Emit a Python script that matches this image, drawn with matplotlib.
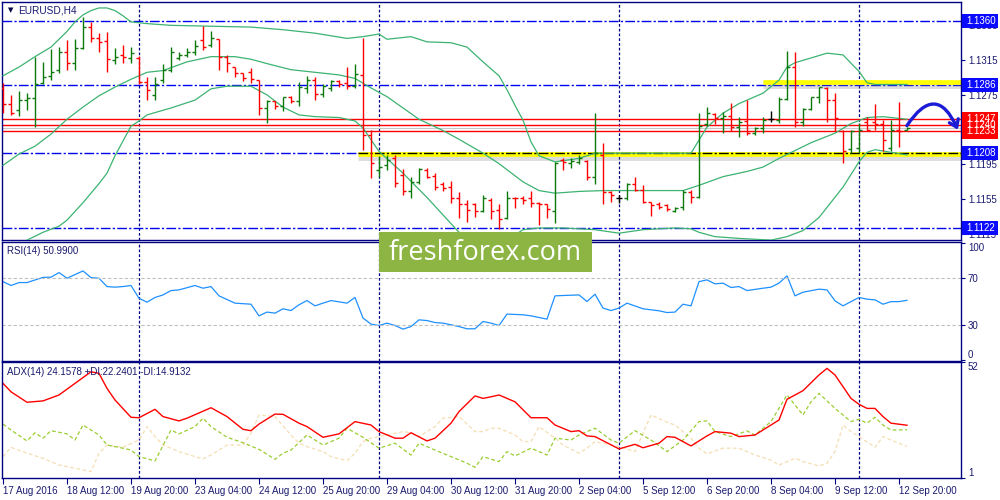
import numpy as np
import matplotlib.pyplot as plt
from matplotlib.patches import Rectangle, FancyArrowPatch
from matplotlib.transforms import blended_transform_factory

plt.rcParams['font.family'] = ['Liberation Sans', 'DejaVu Sans']

# EURUSD H4 bars, 17 Aug 2016 04:00 .. 13 Sep 2016 00:00
opens = [1.1283, 1.1265, 1.1258, 1.1269, 1.1272, 1.1289, 1.1297, 1.1304, 1.1324, 1.1312,
         1.1329, 1.1353, 1.1340, 1.1337, 1.1315, 1.1321, 1.1318, 1.1318, 1.1290, 1.1275,
         1.1292, 1.1304, 1.1318, 1.1321, 1.1324, 1.1338, 1.1332, 1.1339, 1.1319, 1.1307,
         1.1300, 1.1301, 1.1292, 1.1260, 1.1268, 1.1262, 1.1273, 1.1268, 1.1283, 1.1292,
         1.1276, 1.1283, 1.1291, 1.1289, 1.1285, 1.1298, 1.1229, 1.1189, 1.1194, 1.1203,
         1.1183, 1.1164, 1.1175, 1.1189, 1.1182, 1.1172, 1.1169, 1.1157, 1.1149, 1.1149,
         1.1141, 1.1154, 1.1143, 1.1133, 1.1157, 1.1157, 1.1156, 1.1151, 1.1149, 1.1141,
         1.1200, 1.1197, 1.1198, 1.1199, 1.1181, 1.1206, 1.1163, 1.1156, 1.1156, 1.1173,
         1.1166, 1.1152, 1.1149, 1.1148, 1.1142, 1.1146, 1.1163, 1.1158, 1.1242, 1.1253,
         1.1249, 1.1251, 1.1238, 1.1245, 1.1231, 1.1237, 1.1247, 1.1246, 1.1270, 1.1307,
         1.1244, 1.1259, 1.1273, 1.1283, 1.1269, 1.1233, 1.1213, 1.1214, 1.1244, 1.1244,
         1.1241, 1.1214, 1.1235, 1.1235]
highs = [1.1289, 1.1275, 1.1279, 1.1277, 1.1319, 1.1313, 1.1328, 1.1330, 1.1338, 1.1339,
         1.1365, 1.1359, 1.1346, 1.1347, 1.1329, 1.1332, 1.1330, 1.1320, 1.1296, 1.1296,
         1.1310, 1.1330, 1.1324, 1.1329, 1.1338, 1.1354, 1.1348, 1.1339, 1.1321, 1.1307,
         1.1300, 1.1306, 1.1292, 1.1269, 1.1268, 1.1273, 1.1274, 1.1290, 1.1297, 1.1296,
         1.1287, 1.1292, 1.1292, 1.1307, 1.1310, 1.1340, 1.1235, 1.1205, 1.1206, 1.1206,
         1.1190, 1.1181, 1.1191, 1.1191, 1.1185, 1.1175, 1.1176, 1.1163, 1.1154, 1.1151,
         1.1160, 1.1157, 1.1149, 1.1165, 1.1158, 1.1159, 1.1164, 1.1152, 1.1149, 1.1198,
         1.1202, 1.1202, 1.1206, 1.1200, 1.1254, 1.1220, 1.1165, 1.1160, 1.1174, 1.1181,
         1.1171, 1.1152, 1.1152, 1.1150, 1.1146, 1.1166, 1.1166, 1.1254, 1.1261, 1.1254,
         1.1255, 1.1266, 1.1250, 1.1269, 1.1238, 1.1250, 1.1257, 1.1273, 1.1326, 1.1324,
         1.1260, 1.1273, 1.1284, 1.1284, 1.1277, 1.1235, 1.1235, 1.1243, 1.1250, 1.1264,
         1.1246, 1.1246, 1.1267, 1.1238]
lows = [1.1254, 1.1252, 1.1251, 1.1258, 1.1238, 1.1287, 1.1292, 1.1300, 1.1304, 1.1304,
        1.1328, 1.1336, 1.1324, 1.1301, 1.1310, 1.1312, 1.1312, 1.1287, 1.1269, 1.1269,
        1.1289, 1.1301, 1.1315, 1.1319, 1.1321, 1.1327, 1.1330, 1.1304, 1.1301, 1.1296,
        1.1291, 1.1289, 1.1252, 1.1243, 1.1259, 1.1257, 1.1266, 1.1262, 1.1277, 1.1269,
        1.1273, 1.1279, 1.1284, 1.1282, 1.1283, 1.1212, 1.1180, 1.1181, 1.1189, 1.1169,
        1.1160, 1.1157, 1.1172, 1.1180, 1.1166, 1.1164, 1.1151, 1.1134, 1.1129, 1.1135,
        1.1140, 1.1132, 1.1121, 1.1132, 1.1145, 1.1149, 1.1146, 1.1125, 1.1134, 1.1128,
        1.1189, 1.1191, 1.1195, 1.1177, 1.1172, 1.1149, 1.1152, 1.1151, 1.1154, 1.1164,
        1.1151, 1.1136, 1.1144, 1.1142, 1.1140, 1.1143, 1.1151, 1.1157, 1.1239, 1.1242,
        1.1231, 1.1233, 1.1227, 1.1229, 1.1229, 1.1231, 1.1244, 1.1243, 1.1269, 1.1238,
        1.1239, 1.1258, 1.1266, 1.1244, 1.1233, 1.1197, 1.1208, 1.1208, 1.1233, 1.1235,
        1.1210, 1.1211, 1.1215, 1.1235]
closes = [1.1265, 1.1254, 1.1269, 1.1272, 1.1287, 1.1296, 1.1301, 1.1324, 1.1312, 1.1329,
          1.1353, 1.1340, 1.1336, 1.1316, 1.1319, 1.1319, 1.1323, 1.1290, 1.1281, 1.1288,
          1.1304, 1.1324, 1.1321, 1.1324, 1.1331, 1.1330, 1.1340, 1.1319, 1.1312, 1.1300,
          1.1295, 1.1293, 1.1260, 1.1268, 1.1262, 1.1273, 1.1268, 1.1284, 1.1292, 1.1276,
          1.1285, 1.1291, 1.1287, 1.1285, 1.1299, 1.1229, 1.1197, 1.1192, 1.1200, 1.1174,
          1.1164, 1.1175, 1.1190, 1.1181, 1.1169, 1.1168, 1.1157, 1.1149, 1.1143, 1.1141,
          1.1156, 1.1141, 1.1132, 1.1157, 1.1156, 1.1154, 1.1151, 1.1149, 1.1144, 1.1197,
          1.1198, 1.1199, 1.1203, 1.1181, 1.1208, 1.1163, 1.1160, 1.1156, 1.1173, 1.1166,
          1.1152, 1.1148, 1.1146, 1.1144, 1.1145, 1.1163, 1.1158, 1.1239, 1.1254, 1.1249,
          1.1251, 1.1238, 1.1244, 1.1231, 1.1237, 1.1246, 1.1247, 1.1270, 1.1307, 1.1244,
          1.1259, 1.1273, 1.1284, 1.1269, 1.1249, 1.1211, 1.1234, 1.1235, 1.1235, 1.1241,
          1.1223, 1.1235, 1.1234, 1.1237]

# Bollinger bands, read at bar positions
bb_up_x = [0, 2, 4, 6, 8, 9, 10, 11, 12, 13, 14, 15, 16, 18, 21, 26, 31, 35, 39, 43, 45, 47, 48, 51, 53,
           56, 58, 60, 62, 63, 64, 65, 66, 67, 69, 72, 74, 86, 87, 88, 90, 92, 95, 97, 98, 99, 103, 105,
           107, 108, 109, 113]
bb_up = [1.1297, 1.1307, 1.1319, 1.1330, 1.1348, 1.1359, 1.1367, 1.1372, 1.1375, 1.1375, 1.1372, 1.1366,
         1.1359, 1.1357, 1.1355, 1.1354, 1.1353, 1.1350, 1.1346, 1.1340, 1.1342, 1.1345, 1.1339, 1.1342,
         1.1336, 1.1335, 1.1330, 1.1313, 1.1297, 1.1281, 1.1263, 1.1246, 1.1221, 1.1205, 1.1198, 1.1202,
         1.1208, 1.1208, 1.1223, 1.1238, 1.1254, 1.1265, 1.1277, 1.1292, 1.1307, 1.1312, 1.1323, 1.1321,
         1.1302, 1.1289, 1.1287, 1.1287]
bb_mid_x = [0, 2, 4, 6, 8, 10, 12, 14, 16, 18, 20, 23, 26, 29, 31, 33, 36, 39, 42, 44, 46, 48, 50, 52, 55,
            57, 60, 62, 65, 67, 69, 72, 75, 85, 87, 90, 93, 95, 97, 99, 101, 104, 106, 108, 110, 113]
bb_mid = [1.1194, 1.1207, 1.1216, 1.1230, 1.1247, 1.1261, 1.1274, 1.1284, 1.1293, 1.1301, 1.1303, 1.1313,
          1.1319, 1.1319, 1.1316, 1.1311, 1.1304, 1.1301, 1.1298, 1.1294, 1.1283, 1.1273, 1.1260, 1.1247,
          1.1234, 1.1224, 1.1208, 1.1196, 1.1175, 1.1165, 1.1162, 1.1164, 1.1165, 1.1165, 1.1171, 1.1181,
          1.1187, 1.1192, 1.1202, 1.1211, 1.1220, 1.1231, 1.1242, 1.1249, 1.1250, 1.1247]
bb_low_x = [0, 3, 5, 7, 8, 10, 12, 13, 14, 16, 17, 18, 21, 24, 26, 28, 31, 33, 35, 37, 39, 42, 44, 45, 47,
            50, 53, 57, 59, 61, 63, 65, 67, 70, 74, 77, 80, 84, 86, 87, 89, 92, 96, 98, 100, 102, 105,
            107, 108, 109, 111, 113]
bb_low = [1.1092, 1.1108, 1.1117, 1.1124, 1.1131, 1.1151, 1.1173, 1.1185, 1.1205, 1.1239, 1.1245, 1.1252,
          1.1260, 1.1269, 1.1282, 1.1285, 1.1285, 1.1275, 1.1261, 1.1252, 1.1250, 1.1249, 1.1245, 1.1237,
          1.1210, 1.1185, 1.1157, 1.1117, 1.1102, 1.1099, 1.1108, 1.1120, 1.1122, 1.1122, 1.1120, 1.1116,
          1.1120, 1.1122, 1.1121, 1.1117, 1.1112, 1.1110, 1.1108, 1.1112, 1.1119, 1.1134, 1.1169, 1.1198,
          1.1209, 1.1212, 1.1209, 1.1206]

rsi_x = [0, 1, 2, 3, 5, 6, 7, 8, 10, 11, 12, 13, 14, 15, 16, 17, 18, 19, 20, 21, 22, 24, 25, 26, 27, 29,
         31, 32, 33, 34, 35, 36, 37, 38, 39, 40, 41, 43, 44, 45, 46, 47, 48, 49, 50, 51, 52, 53, 54, 55,
         56, 57, 58, 59, 60, 61, 62, 63, 65, 66, 68, 69, 70, 72, 73, 74, 75, 76, 77, 78, 80, 82, 83, 84,
         85, 86, 87, 88, 89, 90, 91, 92, 93, 95, 96, 97, 98, 99, 100, 102, 103, 104, 105, 106, 107, 108,
         109, 110, 111, 112, 113]
rsi = [66.9, 63.6, 66.1, 66.1, 70.5, 70.7, 74.6, 69.8, 76.0, 70.3, 69.8, 62.7, 62.2, 62.7, 63.6, 52.8,
       49.4, 53.4, 55.6, 59.3, 59.9, 63.6, 61.3, 62.7, 54.8, 48.6, 47.7, 37.8, 41.0, 40.1, 43.8, 42.3,
       47.2, 50.8, 46.3, 48.6, 50.8, 48.6, 53.4, 35.9, 30.8, 29.6, 31.6, 29.6, 26.5, 28.7, 34.4, 33.8,
       32.1, 31.6, 30.2, 28.7, 26.8, 26.8, 33.0, 31.6, 29.6, 39.3, 38.7, 37.8, 35.0, 54.8, 55.1, 55.6,
       50.0, 56.2, 44.4, 42.3, 44.4, 48.6, 43.8, 42.1, 40.6, 41.0, 47.7, 46.3, 66.9, 68.4, 65.0, 65.6,
       61.9, 62.7, 59.3, 61.3, 62.2, 65.6, 71.8, 54.8, 57.9, 60.5, 59.9, 50.6, 46.3, 49.9, 53.4, 52.0,
       51.4, 47.7, 49.9, 49.9, 51.0]

adx_x = [0, 1, 3, 5, 7, 9, 11, 12, 13, 14, 16, 17, 19, 20, 22, 23, 26, 28, 30, 31, 32, 34, 35, 37, 38,
         40, 42, 44, 46, 47, 49, 50, 51, 53, 54, 56, 57, 59, 60, 61, 62, 64, 66, 68, 69, 71, 72, 73, 74,
         77, 79, 80, 82, 83, 84, 86, 88, 89, 91, 92, 94, 95, 97, 98, 100, 102, 103, 104, 106, 107, 108,
         109, 110, 111, 113]
adx = [42.6, 38.9, 34.3, 34.9, 37.5, 42.6, 47.7, 47.0, 40.4, 35.3, 27.7, 27.5, 31.2, 28.0, 26.1, 27.3,
       31.9, 28.0, 22.4, 21.8, 24.7, 29.1, 29.0, 25.1, 23.6, 18.9, 20.4, 25.8, 24.3, 21.4, 18.5, 18.5,
       20.9, 17.3, 18.5, 25.1, 30.2, 37.1, 36.0, 36.7, 37.5, 34.5, 27.5, 27.5, 24.3, 21.4, 21.8, 19.5,
       19.2, 13.8, 15.8, 14.3, 16.3, 19.2, 18.9, 15.1, 19.5, 21.4, 20.7, 19.2, 19.9, 22.1, 26.5, 35.6,
       39.4, 46.3, 49.2, 46.3, 36.0, 33.4, 31.6, 31.6, 28.0, 25.1, 24.2]
pdi_x = [0, 1, 3, 4, 5, 6, 8, 9, 10, 12, 13, 15, 16, 17, 19, 21, 22, 24, 25, 26, 28, 30, 32, 34, 35,
         36, 38, 39, 40, 42, 43, 45, 47, 49, 51, 52, 54, 56, 58, 59, 60, 62, 63, 64, 66, 68, 69, 71, 72,
         74, 76, 77, 79, 81, 83, 85, 87, 88, 89, 91, 93, 94, 96, 98, 100, 101, 102, 104, 106, 107, 108,
         109, 110, 111, 113]
pdi = [24.7, 22.1, 17.3, 20.9, 18.5, 21.8, 20.4, 17.7, 24.3, 19.9, 15.5, 14.1, 13.3, 10.4, 8.5, 22.1,
       20.4, 23.6, 27.3, 23.6, 18.9, 16.5, 13.6, 9.2, 11.9, 13.3, 19.9, 17.7, 15.5, 18.5, 22.9, 18.9,
       14.1, 16.3, 11.1, 16.3, 13.3, 10.4, 7.5, 5.7, 10.4, 8.2, 12.6, 10.7, 14.1, 11.1, 18.5, 17.7,
       19.9, 22.9, 17.7, 16.3, 21.8, 17.7, 12.6, 17.7, 25.8, 26.1, 21.4, 19.2, 21.7, 19.9, 25.8, 37.5,
       28.7, 34.5, 38.2, 31.6, 25.8, 26.8, 25.1, 27.7, 24.3, 22.1, 22.2]
mdi_x = [0, 1, 3, 5, 7, 9, 11, 12, 13, 15, 17, 18, 19, 20, 22, 24, 25, 26, 28, 30, 31, 32, 34, 36, 37,
         38, 40, 41, 43, 44, 45, 46, 48, 50, 51, 52, 54, 55, 57, 59, 60, 61, 62, 64, 65, 66, 67, 69, 70,
         72, 73, 74, 76, 77, 79, 81, 83, 84, 86, 87, 88, 90, 92, 94, 96, 97, 99, 100, 102, 103, 104, 105,
         106, 107, 109, 110, 111, 113]
mdi = [10.4, 14.5, 11.9, 9.7, 6.7, 5.3, 3.8, 11.9, 15.5, 14.5, 17.7, 23.6, 19.2, 15.5, 12.6, 10.4, 9.4,
       11.1, 15.5, 15.5, 20.7, 28.7, 28.0, 19.9, 16.3, 14.8, 12.6, 10.4, 8.6, 11.9, 17.0, 18.5, 19.9,
       21.4, 20.9, 19.2, 23.6, 27.3, 28.0, 21.4, 21.4, 22.9, 22.9, 19.9, 17.0, 17.0, 23.6, 18.5, 15.5,
       11.9, 14.1, 17.0, 15.5, 14.8, 12.6, 28.7, 25.5, 24.3, 18.5, 14.1, 11.6, 14.1, 14.1, 11.1, 8.9,
       6.7, 9.7, 8.2, 6.3, 7.5, 12.6, 24.3, 21.4, 19.2, 14.5, 19.2, 17.7, 14.9]

date_labels = ['17 Aug 2016', '18 Aug 12:00', '19 Aug 20:00', '23 Aug 04:00', '24 Aug 12:00',
               '25 Aug 20:00', '29 Aug 04:00', '30 Aug 12:00', '31 Aug 20:00', '2 Sep 04:00',
               '5 Sep 12:00', '6 Sep 20:00', '8 Sep 04:00', '9 Sep 12:00', '12 Sep 20:00']
week_starts = [17, 47, 77, 107]
blue_levels = [1.1360, 1.1286, 1.1208, 1.1122]
red_levels = [1.1247, 1.1240, 1.1233]
price_ticks = [1.1355, 1.1315, 1.1275, 1.1235, 1.1195, 1.1155, 1.1115]

navy = '#000080'
txt = '#1a1a70'
W, H = 1000, 500


def frect(x0, y0, x1, y1):
    return [x0 / W, 1 - y1 / H, (x1 - x0) / W, (y1 - y0) / H]


fig = plt.figure(figsize=(10, 5), dpi=100)
ax = fig.add_axes(frect(2, 2, 961, 240))
ax_rsi = fig.add_axes(frect(2, 242, 961, 361))
ax_adx = fig.add_axes(frect(2, 362, 961, 478))

for a in (ax, ax_rsi, ax_adx):
    for s in a.spines.values():
        s.set_color(navy)
        s.set_linewidth(1.0)
    a.set_xlim(-0.125, 119.75)
    for w in week_starts:
        a.axvline(w, color=navy, lw=0.9, ls=(0, (2.2, 1.6)), zorder=1)
    a.yaxis.tick_right()
    a.tick_params(axis='y', length=3, width=0.8, colors=navy, labelcolor=txt,
                  labelsize=7, pad=2)
    a.set_xticks([])

# --- price window ---
dd = (0, (7, 1.6, 1.6, 1.6))
ax.axhline(1.1237, color='#c8c8c8', lw=0.8, zorder=1)
for lv in blue_levels:
    ax.axhline(lv, color='#0000f0', lw=1.0, ls=dd, zorder=1)
for lv in red_levels:
    ax.axhline(lv, color='#ff0000', lw=1.0, zorder=2)

# yellow support / resistance bands
for x0, lv in [(95, 1.1290), (44.4, 1.12065)]:
    ax.plot([x0, 119.75], [lv - 0.00032, lv - 0.00032], color='#7a7a7a', lw=5, alpha=0.25,
            solid_capstyle='butt', zorder=2)
    ax.plot([x0, 119.75], [lv, lv], color='#ffff00', lw=3.4, solid_capstyle='butt', zorder=2)
ax.plot([44.4, 119.75], [1.1208, 1.1208], color='black', lw=1.0, ls=dd, zorder=2)

ax.plot(bb_up_x, bb_up, color='#3cb371', lw=0.9, zorder=3)
ax.plot(bb_mid_x, bb_mid, color='#3cb371', lw=0.9, zorder=3)
ax.plot(bb_low_x, bb_low, color='#3cb371', lw=0.9, zorder=3)

o, h, l, c = (np.array(v) for v in (opens, highs, lows, closes))
xs = np.arange(len(c))
cols = np.where(c > o, '#0b7a0b', np.where(c < o, '#ff0000', '#000000'))
ax.vlines(xs, l, h, colors=cols, lw=1.0, zorder=4)
ax.hlines(o, xs - 0.4, xs, colors=cols, lw=1.0, zorder=4)
ax.hlines(c, xs, xs + 0.4, colors=cols, lw=1.0, zorder=4)

arrow = FancyArrowPatch((112.8, 1.1237), (119.5, 1.1232), connectionstyle='arc3,rad=-0.95',
                        arrowstyle='->,head_length=5,head_width=3.5', color='#1c1cd6', lw=2.4,
                        clip_on=False, zorder=6)
ax.add_patch(arrow)

ax.set_yticks(price_ticks)
ax.set_yticklabels([f'{v:.4f}' for v in price_ticks])
ax.set_ylim(1.110815, 1.138185)

bt = blended_transform_factory(fig.transFigure, ax.transData)
for lv, fc in [(1.1360, '#0a0aff'), (1.1286, '#0a0aff'), (1.1208, '#0a0aff'), (1.1122, '#0a0aff'),
               (1.1247, '#ff0000'), (1.1233, '#ff0000'), (1.1240, '#ff0000')]:
    ax.add_patch(Rectangle((0.962, lv - 0.00082), 0.036, 0.00164, transform=bt, fc=fc, ec='none',
                           clip_on=False, zorder=7))
    ax.text(0.966, lv, f'{lv:.4f}', transform=bt, color='white', fontsize=7, va='center',
            ha='left', clip_on=False, zorder=8)

fig.text(8 / W, 1 - 10 / H, '\u25bc', fontsize=5, color='#000040', va='center',
         family='DejaVu Sans')
fig.text(18 / W, 1 - 10.5 / H, 'EURUSD,H4', fontsize=7.3, color=txt, va='center')

# --- RSI window ---
ax_rsi.plot(rsi_x, rsi, color='#1e90ff', lw=0.9)
for lv in (70, 30):
    ax_rsi.axhline(lv, color='#c0c0c0', lw=0.8, ls=(0, (3, 2)))
ax_rsi.set_ylim(-0.6, 100.6)
ax_rsi.set_yticks([100, 70, 30, 0])
ax_rsi.set_yticklabels(['100', '70', '30', '0'])
rl = ax_rsi.get_yticklabels()
rl[0].set_va('top')
rl[3].set_va('bottom')
fig.text(7 / W, 1 - 251 / H, 'RSI(14) 50.9900', fontsize=7, color=txt, va='center')

# --- ADX window ---
ax_adx.plot(mdi_x, mdi, color='#f5deb3', lw=0.9, ls=(0, (3, 2)))
ax_adx.plot(pdi_x, pdi, color='#9acd32', lw=0.9, ls=(0, (3, 2)))
ax_adx.plot(adx_x, adx, color='#ff0000', lw=1.0)
ax_adx.set_ylim(1, 52)
ax_adx.set_yticks([52, 1])
ax_adx.set_yticklabels(['52', '1'])
al = ax_adx.get_yticklabels()
al[0].set_va('top')
al[1].set_va('bottom')
fig.text(7 / W, 1 - 372 / H, 'ADX(14) 24.1578 +DI:22.2401 -DI:14.9132', fontsize=7,
         color=txt, va='center')

ax_adx.set_xticks(range(0, 113, 8))
ax_adx.set_xticklabels(date_labels, ha='left')
ax_adx.tick_params(axis='x', length=4, width=0.8, colors=navy, labelcolor=txt, labelsize=7, pad=2)
ax_adx.set_xlim(-0.125, 119.75)

# watermark
fig.add_artist(Rectangle((379 / W, 1 - 272 / H), 213 / W, 40 / H, transform=fig.transFigure,
                         fc='#8db543', ec='none', zorder=10))
fig.text(485.5 / W, 1 - 253 / H, 'freshforex.com', color='white', fontsize=19.5,
         family='Open Sans', ha='center', va='center', zorder=11)

fig.savefig('out.png', dpi=100)
